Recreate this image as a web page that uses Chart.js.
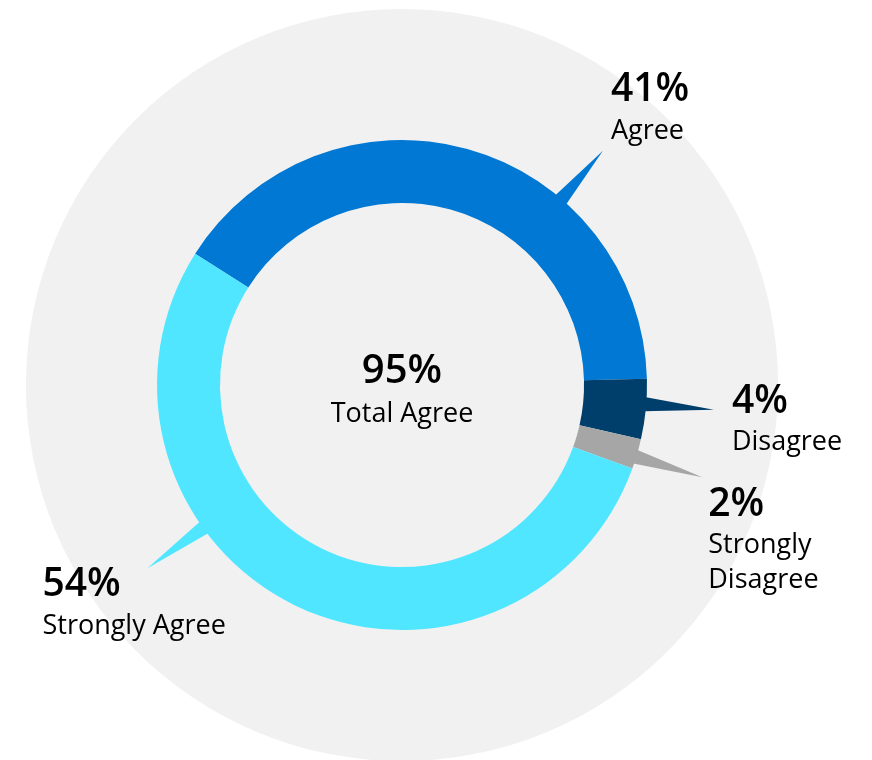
<!DOCTYPE html>
<html>
<head>
<meta charset="utf-8">
<script src="https://cdn.jsdelivr.net/npm/chart.js@4"></script>
<style>
  html, body { margin: 0; padding: 0; background: #ffffff; }
  #wrap { width: 872px; height: 760px; }
</style>
</head>
<body>
<div id="wrap"><canvas id="survey" width="872" height="760"></canvas></div>
<script>
"use strict";

// survey answers, clockwise starting at "Agree"
const categories = ["Agree", "Disagree", "Strongly Disagree", "Strongly Agree"];
const values = [41, 4, 2, 54];
const labelLines = [["Agree"], ["Disagree"], ["Strongly", "Disagree"], ["Strongly Agree"]];
const totalIdx = [0, 3];
const totalLabel = "Total Agree";

const colors = ["#0078D4", "#003E6B", "#A6A6A6", "#50E6FF"];

// callout layout: where the pointer leaves the arc (fraction of the arc),
// how far its tip reaches (x outer radius) and text offset from the tip
const callouts = [
    { at: 0.672, tip: 1.26, dx: 8, dy: -50, gap: 38 },
    { at: 0.42, tip: 1.277, dx: 18, dy: 3, gap: 37 },
    { at: 0.60, tip: 1.282, dx: 6, dy: 39, gap: 37 },
    { at: 0.646, tip: 1.28, dx: -105, dy: 28, gap: 38 }
];

const FONT = "'Open Sans', 'Noto Sans', sans-serif";

const calloutPlugin = {
    id: "callouts",
    beforeDatasetsDraw: function (chart) {
        let arc = chart.getDatasetMeta(0).data[0];
        let ctx = chart.ctx;
        ctx.save();
        ctx.fillStyle = "#F1F1F1";
        ctx.beginPath();
        ctx.arc(arc.x, arc.y, arc.outerRadius * 1.535, 0, Math.PI * 2);
        ctx.fill();
        ctx.restore();
    },
    afterDatasetsDraw: function (chart) {
        let ctx = chart.ctx;
        let arcs = chart.getDatasetMeta(0).data;
        let spread = 1.7 * Math.PI / 180;

        ctx.save();
        arcs.forEach(function (arc, i) {
            let c = callouts[i];
            let a = arc.startAngle + c.at * (arc.endAngle - arc.startAngle);
            let r = arc.outerRadius;
            let tx = arc.x + Math.cos(a) * r * c.tip;
            let ty = arc.y + Math.sin(a) * r * c.tip;

            ctx.fillStyle = colors[i];
            ctx.beginPath();
            ctx.moveTo(arc.x + Math.cos(a - spread) * (r - 2), arc.y + Math.sin(a - spread) * (r - 2));
            ctx.lineTo(tx, ty);
            ctx.lineTo(arc.x + Math.cos(a + spread) * (r - 2), arc.y + Math.sin(a + spread) * (r - 2));
            ctx.closePath();
            ctx.fill();

            ctx.fillStyle = "#000000";
            ctx.textAlign = "left";
            ctx.textBaseline = "alphabetic";
            ctx.font = "600 39px " + FONT;
            ctx.fillText(values[i] + "%", tx + c.dx, ty + c.dy);
            ctx.font = "27px " + FONT;
            labelLines[i].forEach(function (line, k) {
                ctx.fillText(line, tx + c.dx, ty + c.dy + c.gap + k * 35);
            });
        });

        // total in the middle
        let cx = arcs[0].x;
        let cy = arcs[0].y;
        let total = 0;
        totalIdx.forEach(function (k) { total += values[k]; });
        ctx.textAlign = "center";
        ctx.font = "600 40px " + FONT;
        ctx.fillText(total + "%", cx, cy - 2);
        ctx.font = "27px " + FONT;
        ctx.fillText(totalLabel, cx, cy + 37);
        ctx.restore();
    }
};

let canvas = document.getElementById("survey");
let surveyChart = new Chart(canvas.getContext("2d"), {
    type: "doughnut",
    data: {
        labels: categories,
        datasets: [{
            data: values,
            backgroundColor: colors,
            borderWidth: 0
        }]
    },
    options: {
        responsive: false,
        animation: false,
        cutout: "74.3%",
        rotation: -57.6,
        layout: {
            padding: { left: 157, right: 225, top: 140, bottom: 130 }
        },
        plugins: {
            legend: { display: false },
            tooltip: { enabled: false }
        }
    },
    plugins: [calloutPlugin]
});
</script>
</body>
</html>
